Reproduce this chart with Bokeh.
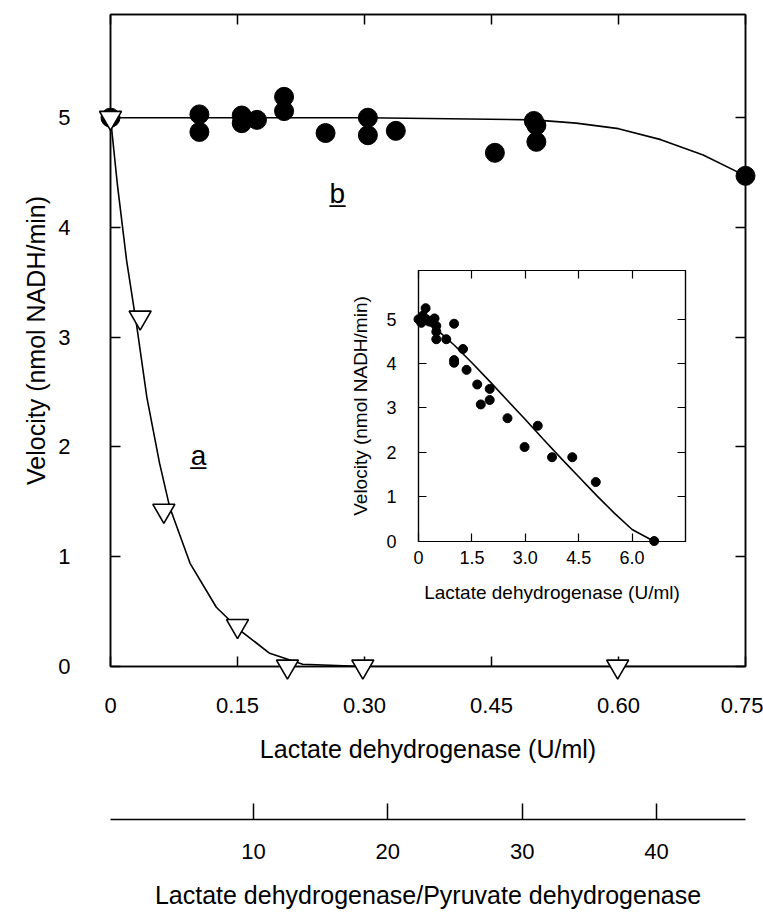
from bokeh.plotting import figure
from bokeh.models import LinearAxis, FixedTicker, Range1d, Label, GridBox, CustomLabelingPolicy
from bokeh.embed import file_html
from bokeh.resources import INLINE

FONT = "Liberation Sans"

# ---------------- data ----------------
# main plot, curve a (open inverted triangles)
a_x = [0.0, 0.035, 0.063, 0.150, 0.209, 0.298, 0.599]
a_y = [5.0, 3.18, 1.42, 0.37, 0.0, 0.0, 0.0]
a_curve_x = [0.0, 0.008, 0.019, 0.031, 0.043, 0.058, 0.070, 0.094, 0.125, 0.153, 0.188, 0.227, 0.30, 0.45, 0.60, 0.75]
a_curve_y = [5.0, 4.4, 3.7, 3.1, 2.45, 1.85, 1.45, 0.94, 0.54, 0.33, 0.12, 0.02, 0.0, 0.0, 0.0, 0.0]

# main plot, curve b (filled circles)
b_x = [0.0, 0.105, 0.105, 0.155, 0.155, 0.173, 0.205, 0.205, 0.254, 0.304, 0.304, 0.337, 0.454, 0.50, 0.503, 0.503, 0.75]
b_y = [5.0, 5.03, 4.87, 5.02, 4.95, 4.98, 5.19, 5.06, 4.86, 5.0, 4.84, 4.88, 4.68, 4.97, 4.93, 4.78, 4.47]
b_curve_x = [0.0, 0.1, 0.2, 0.3, 0.4, 0.5, 0.55, 0.6, 0.65, 0.7, 0.75]
b_curve_y = [5.0, 5.0, 5.0, 5.0, 4.99, 4.98, 4.95, 4.9, 4.8, 4.66, 4.47]

# inset
ins_x = [0.0, 0.08, 0.12, 0.2, 0.22, 0.3, 0.45, 0.5, 0.5, 0.5, 0.78, 1.0, 1.0, 1.0, 1.25, 1.35,
         1.65, 2.0, 1.75, 2.0, 2.5, 2.98, 3.35, 3.75, 4.32, 4.98, 6.62]
ins_y = [5.0, 4.92, 5.08, 5.25, 5.0, 4.95, 5.02, 4.85, 4.72, 4.55, 4.55, 4.9, 4.08, 4.02, 4.33, 3.86,
         3.53, 3.43, 3.08, 3.18, 2.77, 2.12, 2.6, 1.89, 1.89, 1.33, 0.0]
ins_curve_x = [0.0, 0.5, 1.0, 1.5, 2.0, 2.5, 3.0, 3.5, 4.0, 4.5, 5.0, 5.5, 6.0, 6.6]
ins_curve_y = [5.0, 4.78, 4.42, 4.02, 3.6, 3.17, 2.74, 2.3, 1.87, 1.45, 1.03, 0.63, 0.26, 0.0]

# ticks
main_x_ticks = [0.0, 0.15, 0.30, 0.45, 0.60, 0.75]
main_x_labels = ["0", "0.15", "0.30", "0.45", "0.60", "0.75"]
main_y_ticks = [0, 1, 2, 3, 4, 5]
main_y_labels = ["0", "1", "2", "3", "4", "5"]
ratio_ticks = [10, 20, 30, 40]
ratio_labels = ["10", "20", "30", "40"]
ins_x_ticks = [0.0, 1.5, 3.0, 4.5, 6.0]
ins_x_labels = ["0", "1.5", "3.0", "4.5", "6.0"]
ins_y_ticks = [0, 1, 2, 3, 4, 5]
ins_y_labels = ["0", "1", "2", "3", "4", "5"]

x_title = "Lactate dehydrogenase (U/ml)"
y_title = "Velocity (nmol NADH/min)"
ratio_title = "Lactate dehydrogenase/Pyruvate dehydrogenase"

HIDE_ALL = "for (const i of Array.from(indices)) { indices.unset(i) }\nreturn indices"


def style_axis(ax, ticks, labels, tick_font, tick_len, standoff, lw=1.5, show=True):
    ax.ticker = FixedTicker(ticks=ticks)
    ax.major_tick_in = tick_len
    ax.major_tick_out = 0
    ax.minor_tick_line_color = None
    ax.axis_line_width = lw
    ax.axis_line_color = "black"
    ax.major_tick_line_width = lw
    ax.major_tick_line_color = "black"
    ax.major_label_text_font = FONT
    ax.major_label_text_color = "black"
    ax.axis_label_text_font = FONT
    ax.axis_label_text_font_style = "normal"
    ax.axis_label_text_color = "black"
    if show:
        ax.major_label_overrides = {t: l for t, l in zip(ticks, labels)}
        ax.major_label_text_font_size = f"{tick_font}px"
        ax.major_label_standoff = standoff
    else:
        ax.major_label_policy = CustomLabelingPolicy(code=HIDE_ALL)
        ax.major_label_text_font_size = "1px"
        ax.major_label_standoff = 0


# ---------------- main figure ----------------
p = figure(frame_width=635, frame_height=652,
           x_range=Range1d(0, 0.75), y_range=Range1d(0, 5.94),
           min_border_left=107, min_border_right=21, min_border_top=14, min_border_bottom=110,
           toolbar_location=None, output_backend="svg")
p.grid.visible = False
p.outline_line_color = "black"
p.outline_line_width = 1.5
p.background_fill_color = "white"
p.border_fill_color = "white"

style_axis(p.xaxis[0], main_x_ticks, main_x_labels, 22, 10, 31)
p.xaxis[0].axis_label = x_title
p.xaxis[0].axis_label_text_font_size = "25px"
p.xaxis[0].axis_label_standoff = 19

style_axis(p.yaxis[0], main_y_ticks, main_y_labels, 22, 10, 40)
p.yaxis[0].axis_label = y_title
p.yaxis[0].axis_label_text_font_size = "25px"
p.yaxis[0].axis_label_standoff = 5
p.yaxis[0].major_label_orientation = "horizontal"

top_ax = LinearAxis()
style_axis(top_ax, main_x_ticks, main_x_labels, 22, 10, 0, show=False)
p.add_layout(top_ax, "above")
right_ax = LinearAxis()
style_axis(right_ax, main_y_ticks, main_y_labels, 22, 10, 0, show=False)
p.add_layout(right_ax, "right")

p.line(a_curve_x, a_curve_y, line_color="black", line_width=1.6)
p.line(b_curve_x, b_curve_y, line_color="black", line_width=1.6)
p.scatter(b_x, b_y, marker="circle", size=19, fill_color="black", line_color="black", level="overlay")
p.scatter(a_x, a_y, marker="inverted_triangle", size=22, fill_color="white", line_color="black",
          line_width=1.6, level="overlay")

p.add_layout(Label(x=0.104, y=1.92, text="a\u0332", text_font=FONT, text_font_size="28px",
                   text_align="center", text_baseline="alphabetic", text_color="black"))
p.add_layout(Label(x=0.268, y=4.31, text="b\u0332", text_font=FONT, text_font_size="28px",
                   text_align="center", text_baseline="alphabetic", text_color="black"))

# ---------------- secondary (ratio) axis ----------------
p2 = figure(frame_width=635, frame_height=20,
            x_range=Range1d(-0.65, 46.63), y_range=Range1d(0, 1),
            min_border_left=107, min_border_right=21, min_border_top=23, min_border_bottom=0,
            toolbar_location=None, output_backend="svg")
p2.grid.visible = False
p2.outline_line_color = None
p2.yaxis.visible = False
style_axis(p2.xaxis[0], ratio_ticks, ratio_labels, 22, 16, 24)
p2.xaxis[0].axis_label = ratio_title
p2.xaxis[0].axis_label_text_font_size = "25px"
p2.xaxis[0].axis_label_standoff = 19

# ---------------- inset ----------------
ins = figure(frame_width=267, frame_height=271,
             x_range=Range1d(0, 7.5), y_range=Range1d(-0.01, 6.1),
             min_border_left=110, min_border_right=30, min_border_top=5, min_border_bottom=80,
             toolbar_location=None, output_backend="svg")
ins.margin = (256, 0, 0, 308)
ins.grid.visible = False
ins.outline_line_color = "black"
ins.outline_line_width = 1.2
ins.background_fill_alpha = 0
ins.border_fill_alpha = 0

style_axis(ins.xaxis[0], ins_x_ticks, ins_x_labels, 18, 8, 9, lw=1.2)
ins.xaxis[0].axis_label = x_title
ins.xaxis[0].axis_label_text_font_size = "19px"
ins.xaxis[0].axis_label_standoff = 15
style_axis(ins.yaxis[0], ins_y_ticks, ins_y_labels, 18, 8, 22, lw=1.2)
ins.yaxis[0].axis_label = y_title
ins.yaxis[0].axis_label_text_font_size = "19px"
ins.yaxis[0].axis_label_standoff = 12
ins.yaxis[0].major_label_orientation = "horizontal"
ins_top = LinearAxis()
style_axis(ins_top, ins_x_ticks, ins_x_labels, 18, 8, 0, lw=1.2, show=False)
ins.add_layout(ins_top, "above")
ins_right = LinearAxis()
style_axis(ins_right, ins_y_ticks, ins_y_labels, 18, 8, 0, lw=1.2, show=False)
ins.add_layout(ins_right, "right")

ins.line(ins_curve_x, ins_curve_y, line_color="black", line_width=1.6)
ins.scatter(ins_x, ins_y, marker="circle", size=9, fill_color="black", line_color="black", level="overlay")

layout = GridBox(children=[(p, 0, 0), (ins, 0, 0), (p2, 1, 0)], spacing=0)

open("out.html", "w").write(file_html(layout, INLINE))
